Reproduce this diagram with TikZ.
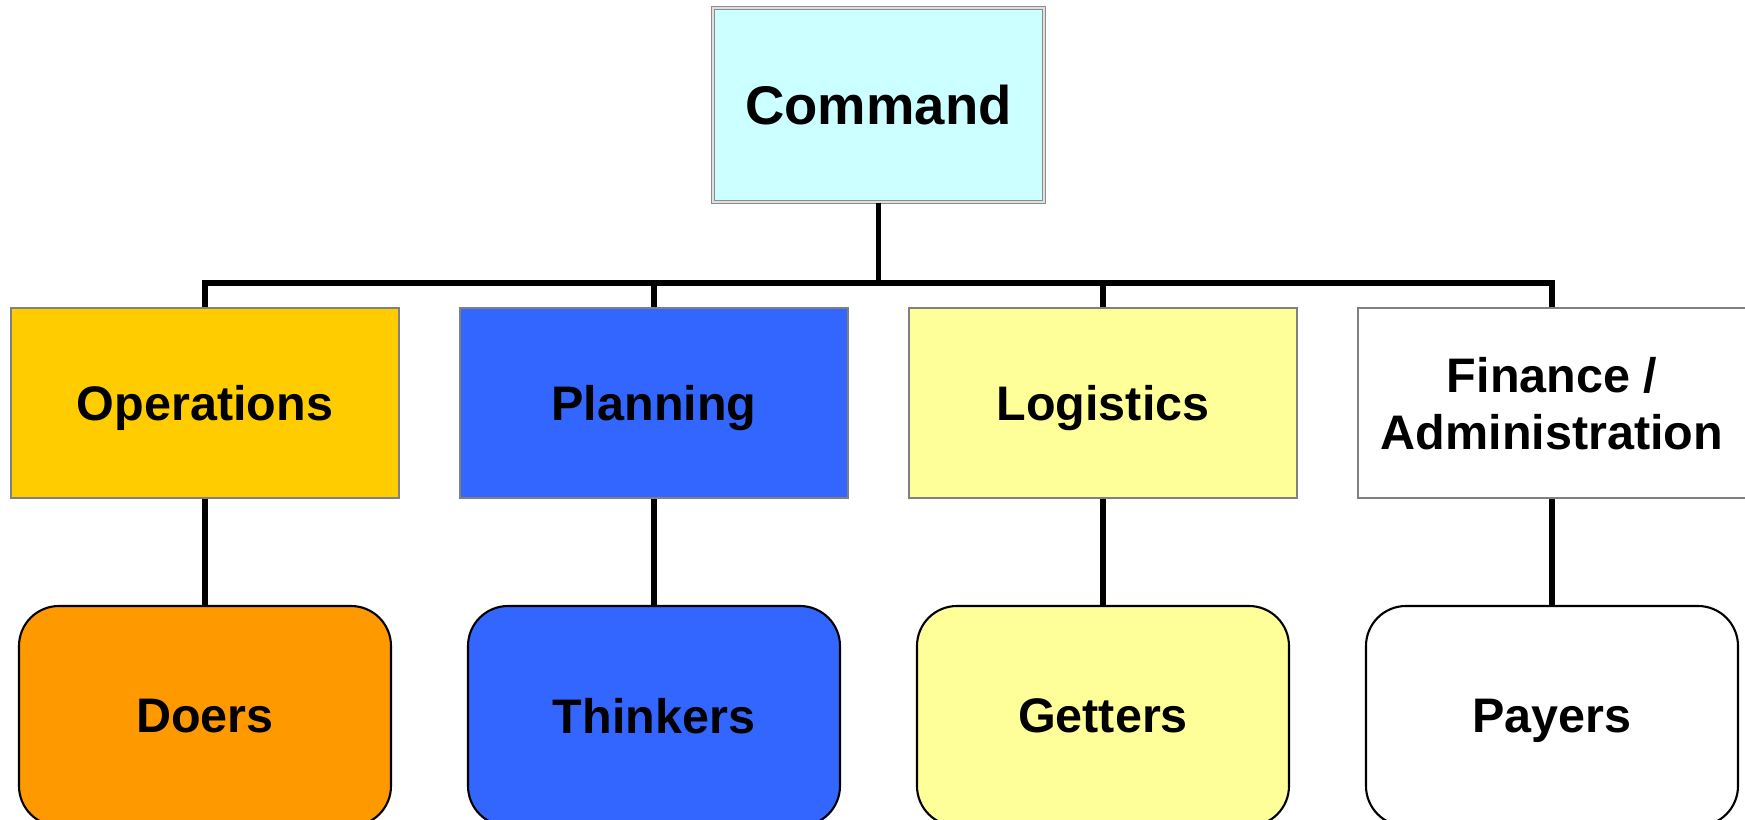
\documentclass[tikz,border=0pt]{standalone}
\usepackage{fontspec}
\setmainfont{Liberation Sans}
\definecolor{cmdcyan}{HTML}{CCFFFF}
\definecolor{opsyellow}{HTML}{FFCC00}
\definecolor{planblue}{HTML}{3366FF}
\definecolor{logyellow}{HTML}{FFFF99}
\definecolor{doorange}{HTML}{FF9900}
\begin{document}
\begin{tikzpicture}[every node/.style={font=\bfseries\fontsize{13.8}{16.2}\selectfont,align=center,inner sep=0pt,text depth=0pt},
    secbox/.style={draw=gray,line width=0.6pt,minimum width=3.88cm,minimum height=1.9cm},
    teambox/.style={draw=black,line width=0.6pt,rounded corners=0.4cm,minimum width=3.72cm,minimum height=2.2cm},
    link/.style={line width=1.6pt}]

    \def\xa{2.05}%Primera columna
    \def\colx{4.49}%Paso columnas
    \def\ya{-4.03}%Fila secciones
    \def\yb{-7.16}%Fila equipos

    \useasboundingbox (0,0) rectangle (17.45,-8.2);
    \clip (0,0) rectangle (17.45,-8.2);

    %Mando
    \node[draw=gray!90,double=gray!25,double distance=0.5pt,fill=cmdcyan,minimum width=3.31cm,minimum height=1.94cm,font=\bfseries\fontsize{15.5}{18}\selectfont] (cmd) at (8.785,-1.05) {Command};

    %Secciones
    \foreach \n/\c/\t [count=\i from 0] in {ops/opsyellow/Operations,plan/planblue/Planning,log/logyellow/Logistics,fin/white/{Finance /\\Administration}}
        \node[secbox,fill=\c] (\n) at ({\xa+\i*\colx},\ya) {\t};

    %Equipos
    \foreach \n/\c/\t [count=\i from 0] in {doers/doorange/Doers,think/planblue/Thinkers,get/logyellow/Getters,pay/white/Payers}
        \node[teambox,fill=\c] (\n) at ({\xa+\i*\colx},\yb) {\t};

    %Lineas
    \coordinate (bus) at (8.785,-2.83);
    \draw[link] (cmd) -- (bus);
    \foreach \n in {ops,plan,log,fin}
        \draw[link] (bus) -| (\n);
    \foreach \n/\m in {ops/doers,plan/think,log/get,fin/pay}
        \draw[link] (\n) -- (\m);

\end{tikzpicture}
\end{document}
